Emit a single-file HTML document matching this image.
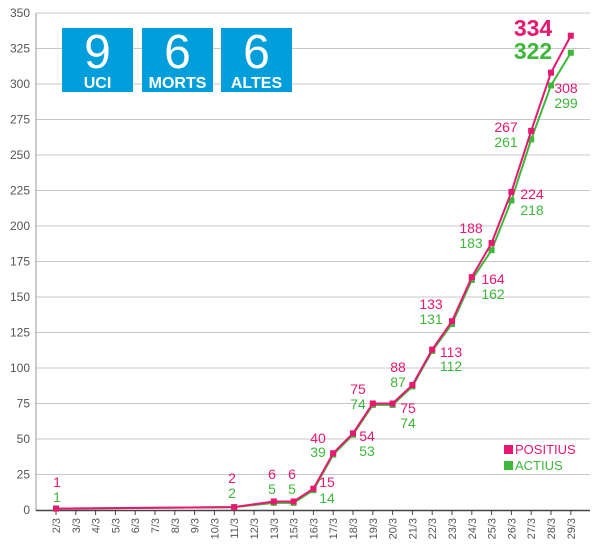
<!DOCTYPE html>
<html><head><meta charset="utf-8"><style>
body{margin:0;background:#fff;}
svg{display:block;font-family:"Liberation Sans",sans-serif;}
</style></head><body>
<svg id="s" width="600" height="559" xmlns="http://www.w3.org/2000/svg"></svg>
<script>
const s=document.getElementById('s');let h='';
const Y=v=>510-v*1.42, X=i=>56+i*19.8;
for(let v=25;v<=350;v+=25){h+=`<line x1="36" x2="590" y1="${Y(v)}" y2="${Y(v)}" stroke="#c8c8c8" stroke-width="1"/>`;}
for(let v=0;v<=350;v+=25){h+=`<text x="30" y="${Y(v)+4}" font-size="12" fill="#555" text-anchor="end">${v}</text>`;}
h+=`<line x1="36" x2="36" y1="13" y2="511" stroke="#999"/>`;
h+=`<line x1="36" x2="590" y1="510.5" y2="510.5" stroke="#444" stroke-width="1.5"/>`;
const cats=['2/3','3/3','4/3','5/3','6/3','7/3','8/3','9/3','10/3','11/3','12/3','13/3','15/3','16/3','17/3','18/3','19/3','20/3','21/3','22/3','23/3','24/3','25/3','26/3','27/3','28/3','29/3'];
cats.forEach((c,i)=>{h+=`<line x1="${X(i)}" x2="${X(i)}" y1="511" y2="515" stroke="#444"/>`;
h+=`<text transform="translate(${X(i)+4},518) rotate(-90)" font-size="11" fill="#555" text-anchor="end">${c}</text>`;});
const P=[[0,1],[9,2],[11,6],[12,6],[13,15],[14,40],[15,54],[16,75],[17,75],[18,88],[19,113],[20,133],[21,164],[22,188],[23,224],[24,267],[25,308],[26,334]];
const G=[[0,1],[9,2],[11,5],[12,5],[13,14],[14,39],[15,53],[16,74],[17,74],[18,87],[19,112],[20,131],[21,162],[22,183],[23,218],[24,261],[25,299],[26,322]];
function ser(d,c){h+=`<polyline fill="none" stroke="${c}" stroke-width="2" points="${d.map(p=>X(p[0])+','+Y(p[1])).join(' ')}"/>`;
d.forEach(p=>{h+=`<rect x="${X(p[0])-3}" y="${Y(p[1])-3}" width="6" height="6" fill="${c}"/>`;});}
const pk='#e8176f',gr='#3db83a';
ser(G,gr);ser(P,pk);
const L=[['1',57,482,pk],['1',57,497,gr],['2',232,478,pk],['2',232,493,gr],['6',272,474,pk],['5',272,489,gr],['6',292,474,pk],['5',292,489,gr],
['15',327,482,pk],['14',327,498,gr],['40',318,438,pk],['39',318,452,gr],['75',358,389,pk],['74',358,404,gr],['54',367,436,pk],['53',367,451,gr],
['75',408,408,pk],['74',408,423,gr],['88',398,367,pk],['87',398,382,gr],['133',431,304,pk],['131',431,319,gr],['113',451,352,pk],['112',451,366,gr],
['188',471,228,pk],['183',471,243,gr],['164',493,279,pk],['162',493,294,gr],['267',506,127,pk],['261',506,142,gr],['224',532,194,pk],['218',532,210,gr],
['308',566,88,pk],['299',566,103,gr]];
L.forEach(l=>{h+=`<text x="${l[1]}" y="${l[2]+5}" font-size="14" fill="${l[3]}" text-anchor="middle">${l[0]}</text>`;});
h+=`<text x="533" y="36" font-size="23" font-weight="bold" fill="${pk}" text-anchor="middle">334</text>`;
h+=`<text x="533" y="59" font-size="23" font-weight="bold" fill="${gr}" text-anchor="middle">322</text>`;
[[62,'9','UCI'],[142,'6','MORTS'],[221,'6','ALTES']].forEach(b=>{
h+=`<rect x="${b[0]}" y="28" width="71" height="64" fill="#009fdb"/>`;
h+=`<text x="${b[0]+35.5}" y="68" font-size="48" fill="#fff" text-anchor="middle">${b[1]}</text>`;
h+=`<text x="${b[0]+35.5}" y="88" font-size="16" font-weight="bold" fill="#fff" text-anchor="middle">${b[2]}</text>`;});
h+=`<rect x="504" y="445" width="9" height="9" fill="${pk}"/><text x="515" y="454" font-size="13" fill="${pk}">POSITIUS</text>`;
h+=`<rect x="504" y="461" width="9" height="9" fill="${gr}"/><text x="515" y="470" font-size="13" fill="${gr}">ACTIUS</text>`;
s.innerHTML=h;
</script>
</body></html>
